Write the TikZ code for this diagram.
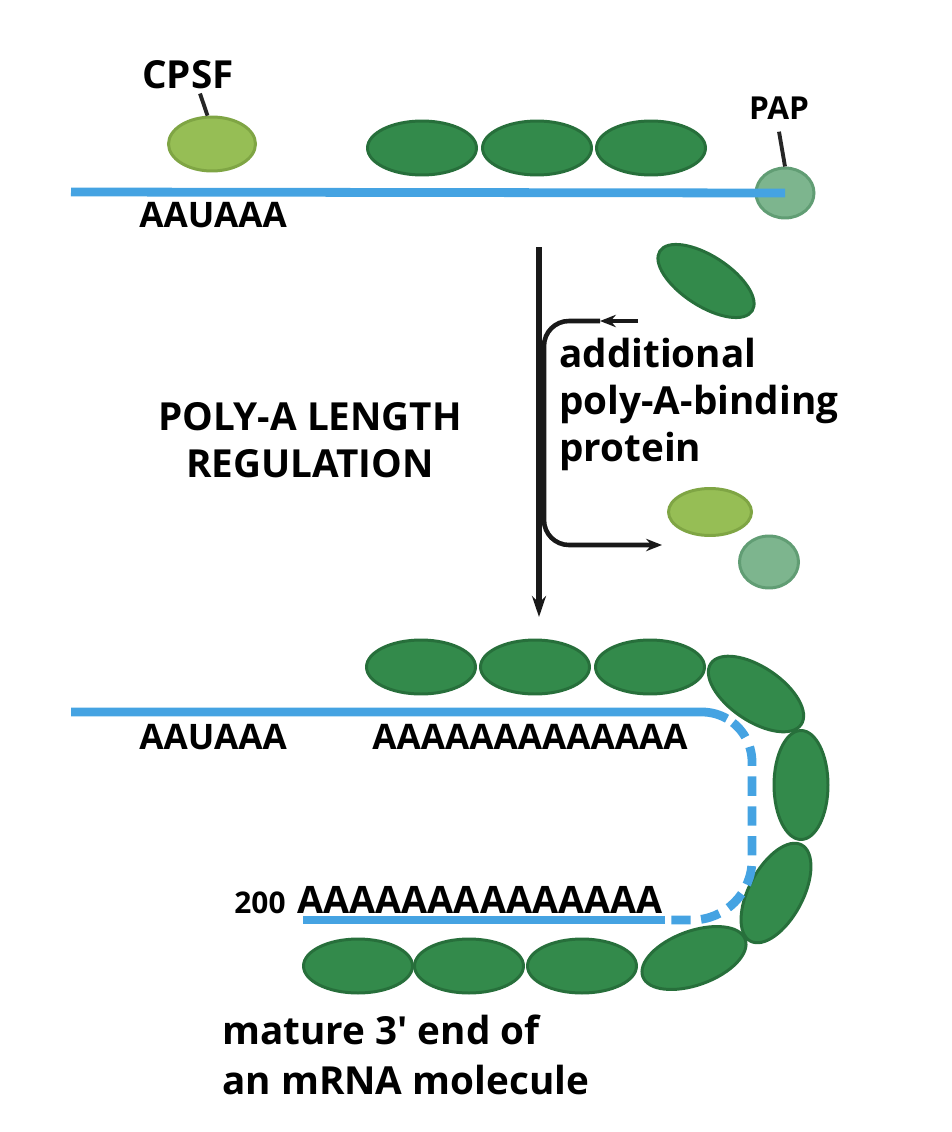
\documentclass[tikz,border=0pt]{standalone}
\usepackage{fontspec}
\setmainfont{Open Sans}
\usepackage{xcolor}
\usetikzlibrary{arrows.meta,shapes.geometric}

\definecolor{rnablue}{HTML}{45A3E2}
\definecolor{pabpfill}{HTML}{338A4B}
\definecolor{pabprim}{HTML}{276F3B}
\definecolor{cpsffill}{HTML}{96BE55}
\definecolor{cpsfrim}{HTML}{7FA544}
\definecolor{papfill}{HTML}{7DB58E}
\definecolor{paprim}{HTML}{619D74}

\begin{document}
\begin{tikzpicture}[x=0.02cm,y=0.02cm,>=Stealth,
  rna/.style={line width=5pt,rnablue},
  prot/.style={ellipse,line width=1.7pt,inner sep=0pt},
  pabp/.style={prot,draw=pabprim,fill=pabpfill,minimum width=2.18cm,minimum height=1.08cm},
  cpsf/.style={prot,draw=cpsfrim,fill=cpsffill,minimum width=1.74cm,minimum height=1.08cm},
  pap/.style={prot,draw=paprim,fill=papfill,minimum width=1.16cm,minimum height=1cm},
  lbl/.style={inner sep=0pt,font=\fontsize{22}{27}\selectfont\bfseries},
  seq/.style={inner sep=0pt,font=\fontsize{20}{24}\selectfont\bfseries},
  tick/.style={line width=2.2pt,black!85},
  flow/.style={line width=3pt,black!90,-{Stealth[length=12pt,width=8pt]}},
  branch/.style={line width=2.6pt,black!90,-{Stealth[length=9pt,width=7pt]}}]
  \useasboundingbox (0,0) rectangle (952,-1132);

  % before
  \node[cpsf] (cpsf) at (212,-144) {};
  \foreach \x [count=\i] in {422,537,651}
    \node[pabp] (t\i) at (\x,-148) {};
  \node[pap] (pap) at (785,-193) {};
  \coordinate (s1) at (71,-192);
  \draw[rna] (s1) -- (pap.center);

  \node[lbl] (cpsfl) at (188,-75) {CPSF};
  \draw[tick] ([shift={(12,-4)}]cpsfl.south) -- (cpsf.99);
  \node[lbl,font=\fontsize{18}{22}\selectfont\bfseries] (papl) at (779,-108) {PAP};
  \draw[tick] ([yshift=-0.24cm]papl.south) -- (pap.north);
  \node[seq] (sig1) at (213,-215) {AAUAAA};

  % regulation step
  \coordinate (top) at (539,-247);
  \coordinate (bot) at (539,-617);
  \draw[flow] (top) -- (bot);

  \node[pabp,rotate=-33,minimum width=2.2cm,minimum height=1cm] (newp) at (706,-281) {};
  \node[cpsf,minimum width=1.66cm,minimum height=0.94cm] (cpsfo) at (710,-512) {};
  \node[pap,minimum width=1.18cm,minimum height=1.04cm] (papo) at (769,-562) {};

  \coordinate (inA) at (638,-321);
  \coordinate (midA) at (600,-321);
  \coordinate (outA) at (662,-545);
  \draw[branch] (inA) -- (midA);
  \draw[branch,rounded corners=0.5cm] (midA) -| (544,-545) -- (outA);

  \node[lbl,align=left,anchor=north west,font=\fontsize{22}{26.8}\selectfont\bfseries] (addl) at (559,-338)
    {additional\\poly-A-binding\\protein};
  \node[lbl,align=center,font=\fontsize{22}{26.8}\selectfont\bfseries] (reg) at (310,-440)
    {POLY-A LENGTH\\REGULATION};

  % after
  \foreach \x [count=\i] in {421,535,650}
    \node[pabp] (r\i) at (\x,-667) {};
  \node[pabp,rotate=-34] (r4) at (756,-694) {};
  \node[pabp,rotate=90] (r5) at (801,-785) {};
  \node[pabp,rotate=62] (r6) at (776,-893) {};
  \node[pabp,rotate=20] (r7) at (694,-958) {};
  \foreach \x [count=\i from 8] in {582,469,358}
    \node[pabp] (r\i) at (\x,-966) {};

  \coordinate (s2) at (71,-712);
  \coordinate (e2) at (303,-920);
  \draw[rna] (s2) -- (702,-712) arc[start angle=90,end angle=60,radius=50];
  \draw[rna,dash pattern=on 11pt off 6pt,dash phase=-4pt] (727,-718.7) arc[start angle=60,end angle=0,radius=50]
    -- (752,-860) arc[start angle=0,end angle=-90,radius=60] -- (665,-920);
  \draw[rna] (665,-920) -- (e2);

  \node[seq] (sig2) at (213,-737) {AAUAAA};
  \node[seq] (tail1) at (530,-737) {AAAAAAAAAAAAA};
  \node[seq,font=\fontsize{21.5}{24}\selectfont\bfseries] (tail2) at (480,-900) {AAAAAAAAAAAAAA};
  \node[seq,font=\fontsize{17}{20}\selectfont\bfseries] (len) at (260,-903) {200};

  \node[lbl,align=left,anchor=north west,font=\fontsize{22}{28.3}\selectfont\bfseries] (mat) at (222,-1015)
    {mature 3′ end of\\an mRNA molecule};
\end{tikzpicture}
\end{document}
